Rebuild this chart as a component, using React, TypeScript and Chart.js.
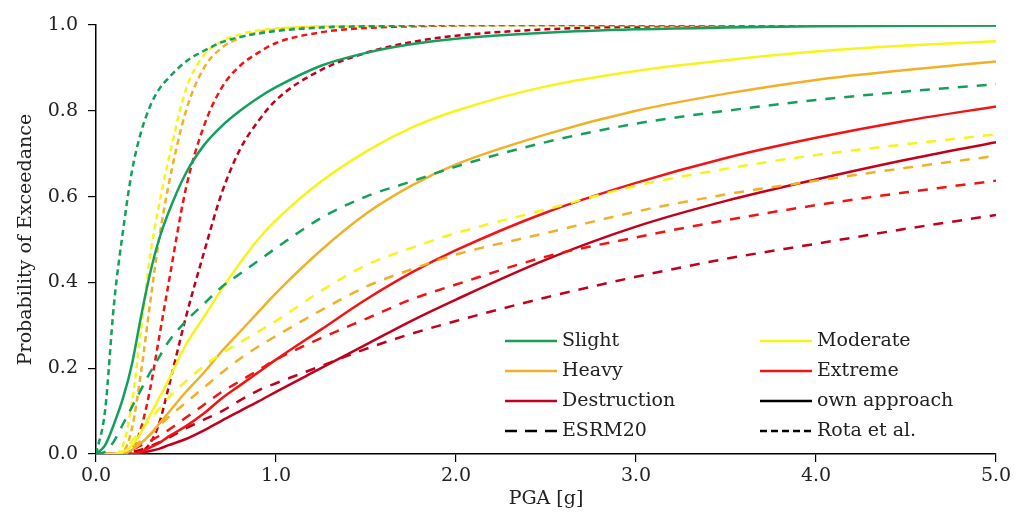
import React, { useEffect, useRef } from "react";
import { Chart, registerables } from "chart.js";

Chart.register(...registerables);

// PGA sample points [g]
const pga = [0, 0.05, 0.1, 0.15, 0.2, 0.25, 0.3, 0.35, 0.4, 0.5, 0.6, 0.7, 0.8, 0.9, 1.0, 1.25, 1.5, 1.75, 2.0, 2.5, 3.0, 3.5, 4.0, 4.5, 5.0];

// own approach (solid)
const slightOwn = [0, 0.02, 0.07, 0.13, 0.21, 0.32, 0.42, 0.5, 0.56, 0.655, 0.72, 0.765, 0.8, 0.83, 0.855, 0.905, 0.935, 0.955, 0.968, 0.982, 0.99, 0.994, 0.997, 0.998, 0.999];
const moderateOwn = [0, 0, 0, 0.005, 0.02, 0.05, 0.09, 0.13, 0.17, 0.255, 0.32, 0.385, 0.445, 0.5, 0.545, 0.635, 0.705, 0.76, 0.8, 0.857, 0.893, 0.918, 0.938, 0.952, 0.962];
const heavyOwn = [0, 0, 0, 0, 0.01, 0.025, 0.045, 0.07, 0.095, 0.145, 0.19, 0.24, 0.285, 0.33, 0.375, 0.475, 0.56, 0.625, 0.675, 0.745, 0.8, 0.84, 0.872, 0.895, 0.915];
const extremeOwn = [0, 0, 0, 0, 0, 0.005, 0.015, 0.025, 0.04, 0.065, 0.095, 0.13, 0.16, 0.19, 0.22, 0.29, 0.36, 0.422, 0.475, 0.563, 0.632, 0.69, 0.737, 0.777, 0.81];
const destructionOwn = [0, 0, 0, 0, 0, 0.003, 0.007, 0.012, 0.02, 0.035, 0.055, 0.078, 0.1, 0.122, 0.145, 0.2, 0.255, 0.31, 0.36, 0.453, 0.53, 0.59, 0.64, 0.686, 0.727];

// ESRM20 (long dash)
const slightEsrm = [0, 0.005, 0.03, 0.07, 0.11, 0.15, 0.19, 0.225, 0.26, 0.31, 0.35, 0.39, 0.42, 0.45, 0.48, 0.55, 0.6, 0.635, 0.67, 0.727, 0.77, 0.8, 0.825, 0.845, 0.862];
const moderateEsrm = [0, 0, 0, 0.005, 0.03, 0.055, 0.08, 0.105, 0.13, 0.17, 0.205, 0.235, 0.26, 0.285, 0.31, 0.38, 0.44, 0.48, 0.515, 0.57, 0.625, 0.665, 0.697, 0.722, 0.745];
const heavyEsrm = [0, 0, 0, 0.005, 0.015, 0.03, 0.045, 0.065, 0.085, 0.12, 0.155, 0.19, 0.222, 0.25, 0.275, 0.335, 0.39, 0.43, 0.465, 0.515, 0.565, 0.605, 0.637, 0.667, 0.695];
const extremeEsrm = [0, 0, 0, 0.003, 0.01, 0.02, 0.03, 0.042, 0.055, 0.085, 0.115, 0.145, 0.17, 0.195, 0.22, 0.27, 0.315, 0.36, 0.395, 0.46, 0.505, 0.545, 0.58, 0.61, 0.637];
const destructionEsrm = [0, 0, 0, 0.002, 0.005, 0.01, 0.018, 0.027, 0.037, 0.06, 0.08, 0.1, 0.125, 0.148, 0.165, 0.205, 0.245, 0.28, 0.31, 0.365, 0.413, 0.455, 0.49, 0.525, 0.557];

// Rota et al. (short dash)
const slightRota = [0, 0.1, 0.35, 0.52, 0.66, 0.75, 0.81, 0.85, 0.875, 0.915, 0.94, 0.96, 0.972, 0.98, 0.986, 0.994, 0.997, 0.999, 1, 1, 1, 1, 1, 1, 1];
const moderateRota = [0, 0, 0, 0.02, 0.12, 0.29, 0.46, 0.58, 0.68, 0.85, 0.93, 0.962, 0.978, 0.987, 0.992, 0.997, 0.999, 1, 1, 1, 1, 1, 1, 1, 1];
const heavyRota = [0, 0, 0, 0.005, 0.06, 0.19, 0.35, 0.5, 0.62, 0.8, 0.9, 0.947, 0.97, 0.983, 0.99, 0.996, 0.999, 1, 1, 1, 1, 1, 1, 1, 1];
const extremeRota = [0, 0, 0, 0, 0.01, 0.06, 0.15, 0.27, 0.39, 0.62, 0.765, 0.855, 0.905, 0.935, 0.958, 0.983, 0.993, 0.997, 0.999, 1, 1, 1, 1, 1, 1];
const destructionRota = [0, 0, 0, 0, 0, 0.005, 0.025, 0.07, 0.15, 0.32, 0.47, 0.61, 0.71, 0.775, 0.825, 0.895, 0.935, 0.96, 0.975, 0.99, 0.996, 0.999, 1, 1, 1];

const stateNames = ["Slight", "Moderate", "Heavy", "Extreme", "Destruction"];
const stateColors = ["#14A05C", "#F5F51C", "#F0B028", "#F01414", "#C0001C"];
const ownSeries = [slightOwn, moderateOwn, heavyOwn, extremeOwn, destructionOwn];
const esrmSeries = [slightEsrm, moderateEsrm, heavyEsrm, extremeEsrm, destructionEsrm];
const rotaSeries = [slightRota, moderateRota, heavyRota, extremeRota, destructionRota];

const legendLabels = ["Slight", "Moderate", "Heavy", "Extreme", "Destruction", "own approach", "ESRM20", "Rota et al."];
const legendColors = ["#14A05C", "#F5F51C", "#F0B028", "#F01414", "#C0001C", "#000000", "#000000", "#000000"];
const legendDashes = [[], [], [], [], [], [], [12, 8], [7, 4]];

const xTitle = "PGA [g]";
const yTitle = "Probability of Exceedance";

const FONT_FAMILY = '"DejaVu Serif", serif';
const ESRM_DASH = [10, 9];
const ROTA_DASH = [6, 4];

const toPoints = (ys: number[]) => pga.map((x, i) => ({ x, y: ys[i] }));

const legendPlugin = {
  id: "customLegend",
  afterDraw(chart: any) {
    const { ctx, chartArea } = chart;
    const x0 = chartArea.left + 409;
    const colGap = 255;
    const y0 = chartArea.top + 316;
    const rowGap = 30;
    const lineLen = 52;
    ctx.save();
    ctx.font = `19px ${FONT_FAMILY}`;
    ctx.textBaseline = "middle";
    ctx.textAlign = "left";
    legendLabels.forEach((label, k) => {
      const col = k % 2;
      const row = Math.floor(k / 2);
      const lx = x0 + col * colGap;
      const ly = y0 + row * rowGap;
      ctx.beginPath();
      ctx.setLineDash(legendDashes[k]);
      ctx.lineWidth = 2.5;
      ctx.strokeStyle = legendColors[k];
      ctx.moveTo(lx, ly);
      ctx.lineTo(lx + lineLen, ly);
      ctx.stroke();
      ctx.setLineDash([]);
      ctx.fillStyle = "#222";
      ctx.fillText(label, lx + lineLen + 5, ly);
    });
    ctx.restore();
  },
};

export default function App() {
  const canvasRef = useRef<HTMLCanvasElement | null>(null);

  useEffect(() => {
    if (!canvasRef.current) return;
    const datasets: any[] = [];
    stateNames.forEach((name, i) => {
      datasets.push({
        label: `${name} (own approach)`,
        data: toPoints(ownSeries[i]),
        borderColor: stateColors[i],
        borderWidth: 2.5,
        pointRadius: 0,
        cubicInterpolationMode: "monotone",
        fill: false,
      });
      datasets.push({
        label: `${name} (ESRM20)`,
        data: toPoints(esrmSeries[i]),
        borderColor: stateColors[i],
        borderWidth: 2.5,
        borderDash: ESRM_DASH,
        pointRadius: 0,
        cubicInterpolationMode: "monotone",
        fill: false,
      });
      datasets.push({
        label: `${name} (Rota et al.)`,
        data: toPoints(rotaSeries[i]),
        borderColor: stateColors[i],
        borderWidth: 2.5,
        borderDash: ROTA_DASH,
        pointRadius: 0,
        cubicInterpolationMode: "monotone",
        fill: false,
      });
    });

    const chart = new Chart(canvasRef.current, {
      type: "line",
      data: { datasets },
      plugins: [legendPlugin],
      options: {
        responsive: false,
        animation: false,
        devicePixelRatio: 1,
        layout: { padding: { left: 0, right: 20, top: 25, bottom: 0 } },
        plugins: { legend: { display: false }, tooltip: { enabled: false } },
        scales: {
          x: {
            type: "linear",
            min: 0,
            max: 5,
            ticks: {
              stepSize: 1,
              callback: (v: any) => Number(v).toFixed(1),
              font: { family: FONT_FAMILY, size: 19 },
              color: "#222",
              padding: 3,
              maxRotation: 0,
            },
            grid: { drawOnChartArea: false, drawTicks: true, tickLength: 8, color: "#000", lineWidth: 1.2 },
            border: { display: true, color: "#000", width: 1.5 },
            title: {
              display: true,
              text: xTitle,
              font: { family: FONT_FAMILY, size: 19 },
              color: "#222",
              padding: { top: 0, bottom: 2 },
            },
            afterFit: (scale: any) => {
              scale.height = 58;
            },
          },
          y: {
            type: "linear",
            min: 0,
            max: 1,
            ticks: {
              stepSize: 0.2,
              callback: (v: any) => Number(v).toFixed(1),
              font: { family: FONT_FAMILY, size: 19 },
              color: "#222",
              padding: 10,
            },
            grid: { drawOnChartArea: false, drawTicks: true, tickLength: 8, color: "#000", lineWidth: 1.2 },
            border: { display: true, color: "#000", width: 1.5 },
            title: {
              display: true,
              text: yTitle,
              font: { family: FONT_FAMILY, size: 19 },
              color: "#222",
              padding: { top: 15, bottom: 0 },
            },
            afterFit: (scale: any) => {
              scale.width = 96;
            },
          },
        },
      },
    } as any);
    return () => chart.destroy();
  }, []);

  return (
    <div style={{ position: "fixed", left: 0, top: 0, width: 1016, height: 512, background: "#fff" }}>
      <canvas ref={canvasRef} width={1016} height={512} style={{ display: "block", width: 1016, height: 512 }} />
    </div>
  );
}
